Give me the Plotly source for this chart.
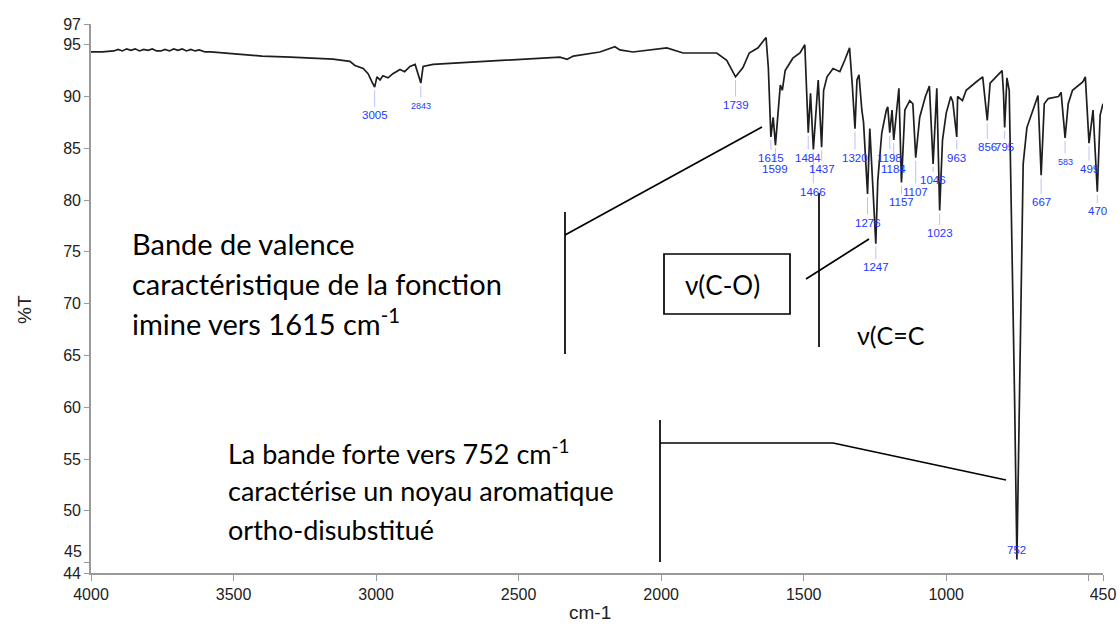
import plotly.graph_objects as go

# ---- IR spectrum: wavenumber (cm-1) and transmittance (%T) ----
wavenumber = [
    4000, 3960, 3920, 3905, 3890, 3875, 3860, 3845, 3830, 3815, 3800, 3785, 3770,
    3755, 3740, 3725, 3710, 3695, 3680, 3665, 3650, 3635, 3620, 3600, 3580,
    3502, 3400, 3300, 3151, 3092, 3074, 3045, 3028, 3014, 3005, 2997, 2986,
    2976, 2958, 2941, 2916, 2900, 2881, 2863, 2843, 2835, 2800, 2681, 2506,
    2355, 2330, 2308, 2215, 2162, 2145, 2099, 1980, 1923, 1805, 1770, 1739,
    1713, 1691, 1660, 1632, 1624, 1615, 1607, 1599, 1588, 1582, 1575, 1565,
    1538, 1513, 1496, 1491, 1484, 1476, 1466, 1449, 1437, 1430, 1418, 1397,
    1373, 1356, 1339, 1330, 1320, 1313, 1306, 1296, 1290, 1276, 1268, 1247,
    1240, 1226, 1210, 1205, 1198, 1190, 1184, 1166, 1157, 1145, 1128, 1117,
    1107, 1093, 1073, 1059, 1046, 1033, 1023, 1013, 1000, 984, 977, 963, 960,
    943, 930, 895, 872, 856, 846, 804, 799, 795, 787, 779, 768, 760, 752, 745,
    733, 730, 717, 700, 678, 667, 656, 642, 606, 597, 583, 572, 557, 521, 512,
    499, 485, 470, 460, 450,
]
transmittance = [
    94.3, 94.3, 94.4, 94.55, 94.4, 94.6, 94.45, 94.6, 94.4, 94.55, 94.45, 94.6, 94.4,
    94.4, 94.55, 94.4, 94.6, 94.45, 94.6, 94.4, 94.55, 94.4, 94.5, 94.3, 94.3,
    94.1, 93.9, 93.8, 93.6, 93.4, 93.0, 92.7, 92.2, 91.4, 90.9, 91.9, 91.6,
    92.0, 91.8, 92.2, 92.6, 92.4, 92.9, 93.1, 91.3, 92.9, 93.1, 93.3, 93.6,
    93.8, 93.6, 93.9, 94.3, 94.8, 94.5, 94.3, 94.7, 94.2, 94.2, 93.5, 91.9,
    92.8, 94.2, 94.7, 95.7, 92.8, 86.1, 88.0, 85.3, 89.6, 91.1, 90.6, 92.5,
    93.7, 94.2, 95.0, 91.3, 86.5, 90.3, 84.9, 91.6, 85.1, 90.6, 91.9, 92.7,
    92.4, 93.5, 94.7, 91.3, 86.9, 91.6, 92.1, 88.7, 87.5, 80.6, 86.9, 75.8,
    81.9, 86.5, 88.7, 89.0, 86.5, 88.7, 85.8, 90.8, 81.7, 88.7, 89.6, 89.3,
    84.1, 88.0, 90.0, 91.0, 83.5, 90.8, 79.0, 85.8, 88.4, 90.0, 89.5, 86.1, 90.0,
    89.6, 90.6, 91.4, 91.9, 87.7, 91.3, 92.5, 90.3, 87.0, 91.8, 90.6, 75.0, 60.6, 45.3, 58.0,
    80.0, 83.5, 87.0, 88.4, 90.1, 82.4, 89.3, 89.8, 90.0, 90.4, 86.0, 89.3, 90.6, 91.4, 91.9,
    85.5, 88.7, 80.8, 88.2, 89.3,
]

# ---- labelled absorption bands ----
peak_text = ["3005", "2843", "1739", "1615", "1599", "1484", "1466", "1437",
             "1320", "1276", "1247", "1198", "1184", "1157", "1107", "1046",
             "1023", "963", "856", "795", "752", "667", "583", "499", "470"]
peak_wn = [3005, 2843, 1739, 1615, 1599, 1484, 1466, 1437, 1320, 1276, 1247,
           1198, 1184, 1157, 1107, 1046, 1023, 963, 856, 795, 752, 667, 583,
           499, 470]
peak_t = [90.9, 91.3, 91.9, 86.1, 85.3, 86.5, 84.9, 85.1, 86.9, 80.6, 75.8,
          86.5, 85.8, 81.7, 84.1, 83.5, 79.0, 86.1, 87.7, 87.0, 45.3, 82.4,
          86.0, 85.5, 80.8]
# where each band's label sits (in %T)
label_t = [88.2, 89.1, 89.2, 84.1, 83.0, 84.1, 80.8, 83.0, 84.1, 77.8, 73.5,
           84.1, 83.0, 79.8, 80.8, 81.9, 76.8, 84.1, 85.1, 85.1, 46.2, 79.8,
           83.7, 83.0, 78.9]
small_labels = {"2843", "583"}

y_ticks = [44, 45, 50, 55, 60, 65, 70, 75, 80, 85, 90, 95, 97]
y_ticktext = ["44", "", "50", "55", "60", "65", "70", "75", "80", "85", "90", "95", "97"]
x_ticks = [4000, 3500, 3000, 2500, 2000, 1500, 1000, 500, 450]
x_ticktext = ["4000", "3500", "3000", "2500", "2000", "1500", "1000", "", "450"]

W, H = 1120, 628
ML, MR, MT, MB = 91, 17, 24, 55
PW, PH = W - ML - MR, H - MT - MB
AXIS_FONT = dict(family="Liberation Sans", size=16, color="#222")


def px(x, y):
    """Pixel position on the page -> paper coordinates."""
    return (x - ML) / PW, (H - MB - y) / PH


fig = go.Figure()
fig.add_trace(go.Scatter(
    x=wavenumber, y=transmittance, mode="lines",
    line=dict(color="#1e1e1e", width=1.7), hoverinfo="skip", showlegend=False,
))

shapes = []
annotations = []

# band markers: thin blue stem + blue wavenumber
for txt, wn, t, lt in zip(peak_text, peak_wn, peak_t, label_t):
    if txt != "752":
        shapes.append(dict(type="line", xref="x", yref="y", x0=wn, x1=wn,
                           y0=t - 0.3, y1=lt + 0.8,
                           line=dict(color="#b8c0ff", width=1)))
    small = txt in small_labels
    annotations.append(dict(
        x=wn, y=lt, xref="x", yref="y", text=txt, showarrow=False,
        font=dict(family="Liberation Sans", size=9 if small else 11.5, color="#2438ff"),
        xanchor="center", yanchor="middle",
    ))


def seg(x0, y0, x1, y1, width=1.7):
    a, b = px(x0, y0)
    c, d = px(x1, y1)
    shapes.append(dict(type="line", xref="paper", yref="paper",
                       x0=a, y0=b, x1=c, y1=d,
                       line=dict(color="black", width=width)))


def note(x, y, text, size, anchor="left"):
    a, b = px(x, y)
    annotations.append(dict(x=a, y=b, xref="paper", yref="paper", text=text,
                            showarrow=False, xanchor=anchor, yanchor="middle",
                            font=dict(family="Lato", size=size, color="black")))


# imine band callout
seg(565, 212, 565, 354)
seg(565, 235, 762, 127)
note(130, 243, "Bande de valence", 29)
note(130, 283, "caractéristique de la fonction", 29)
note(130, 322, "imine vers 1615 cm<sup>-1</sup>", 29)

# C-O callout
a0, b0 = px(664, 254)
a1, b1 = px(790, 314)
shapes.append(dict(type="rect", xref="paper", yref="paper", x0=a0, y0=b0,
                   x1=a1, y1=b1, line=dict(color="black", width=1.7)))
note(722, 285, "ν(C-O)", 26, anchor="center")
seg(806, 279, 869, 239)

# C=C callout
seg(819, 193, 819, 347)
note(855, 335, "ν(C=C", 25)

# aromatic band callout
seg(660, 420, 660, 562)
seg(660, 443, 833, 443)
seg(833, 443, 1006, 480)
note(226, 452, "La bande forte vers 752 cm<sup>-1</sup>", 27)
note(226, 490, "caractérise un noyau aromatique", 27)
note(226, 529, "ortho-disubstitué", 27)

# "45" tick label sits a little above its tick
tx, ty = px(84, 551)
annotations.append(dict(x=tx, y=ty, xref="paper", yref="paper", text="45",
                        showarrow=False, xanchor="right", yanchor="middle",
                        font=AXIS_FONT))

# axis titles
tx, ty = px(590, 612)
annotations.append(dict(x=tx, y=ty, xref="paper", yref="paper", text="cm-1",
                        showarrow=False, xanchor="center", yanchor="middle",
                        font=dict(family="Liberation Sans", size=19, color="#222")))
tx, ty = px(24, 310)
annotations.append(dict(x=tx, y=ty, xref="paper", yref="paper", text="%T",
                        showarrow=False, textangle=-90, xanchor="center", yanchor="middle",
                        font=dict(family="Liberation Sans", size=19, color="#222")))

fig.update_layout(
    width=W, height=H,
    margin=dict(l=ML, r=MR, t=MT, b=MB, autoexpand=False),
    plot_bgcolor="white", paper_bgcolor="white",
    shapes=shapes, annotations=annotations,
    xaxis=dict(range=[4000, 450], tickvals=x_ticks, ticktext=x_ticktext,
               showline=True, linecolor="#999", linewidth=1.6, ticks="outside",
               ticklen=6, tickcolor="#999", showgrid=False, zeroline=False,
               tickfont=AXIS_FONT),
    yaxis=dict(range=[44, 97], tickvals=y_ticks, ticktext=y_ticktext,
               showline=True, linecolor="#999", linewidth=1.6, ticks="outside",
               ticklen=5, tickcolor="#999", showgrid=False, zeroline=False,
               tickfont=AXIS_FONT),
)

fig.write_html("out.html")
